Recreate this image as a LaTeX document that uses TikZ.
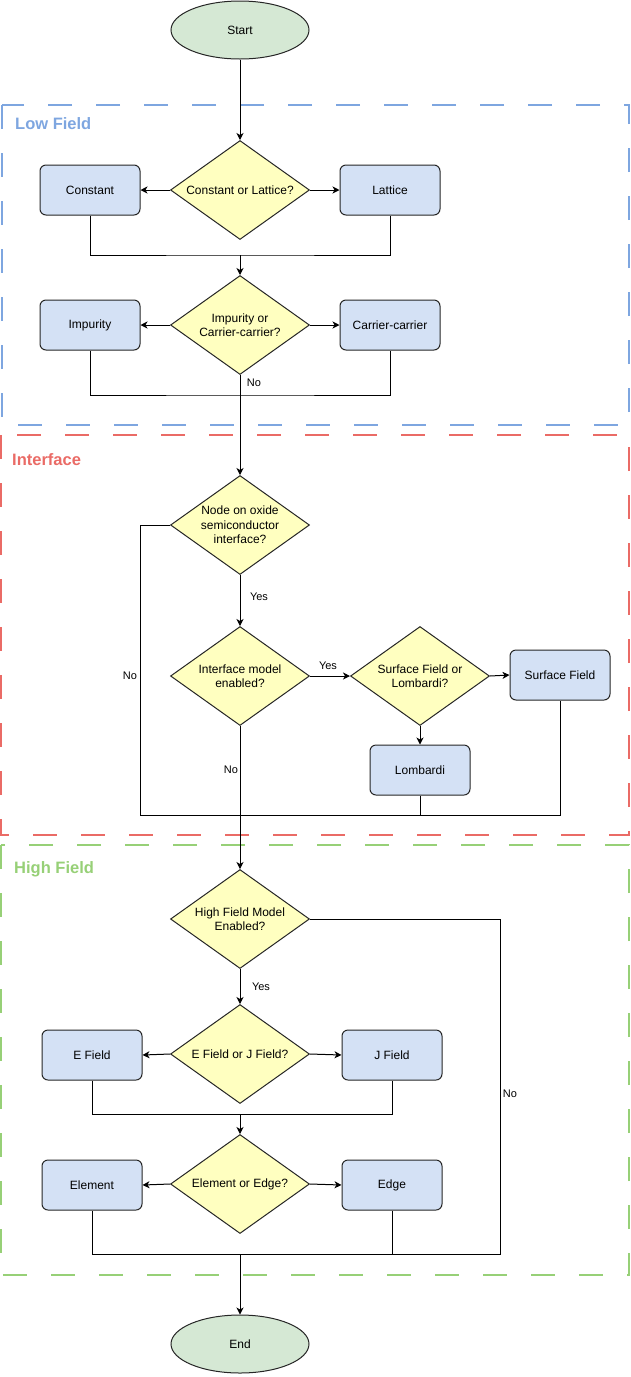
\documentclass[tikz,border=0pt]{standalone}
\usepackage{fontspec}
\setmainfont{Liberation Sans}
\usetikzlibrary{shapes.geometric,arrows.meta}
\definecolor{boxfill}{HTML}{D4E1F5}
\definecolor{diafill}{HTML}{FFFFC0}
\definecolor{ovalfill}{HTML}{D5E8D4}
\definecolor{lowc}{HTML}{7EA6E0}
\definecolor{intc}{HTML}{EA6B66}
\definecolor{highc}{HTML}{97D077}
\begin{document}
\begin{tikzpicture}[x=1pt,y=-1pt,
  base/.style={draw=black!85, line width=1pt, font=\fontsize{12}{14.5}\selectfont, align=center, inner sep=0pt},
  oval/.style={base, ellipse, fill=ovalfill, minimum width=138pt, minimum height=58pt},
  proc/.style={base, rectangle, rounded corners=6pt, fill=boxfill, minimum width=100pt, minimum height=50pt},
  dia/.style={base, diamond, fill=diafill, minimum width=139pt, minimum height=99pt},
  dtext/.style={font=\fontsize{12}{14.5}\selectfont, align=center, inner sep=0pt},
  arr/.style={-{Stealth[length=7pt,width=7pt,inset=2pt]}, line width=1pt},
  ln/.style={line width=1pt},
  elab/.style={font=\fontsize{11}{13}\selectfont, inner sep=0pt},
  group/.style={line width=2pt, dash pattern=on 24pt off 24pt},
  glab/.style={font=\fontsize{16.5}{18}\selectfont\bfseries, anchor=west, inner sep=0pt}
]
\useasboundingbox (0,0) rectangle (631,1377);

% groups
\draw[group, lowc] (2,105) rectangle (629,425);
\draw[group, intc] (1,435) rectangle (629,835);
\draw[group, highc] (1,845) rectangle (629,1275);
\node[glab, text=lowc] (glow) at (15,124) {Low Field};
\node[glab, text=intc] (gint) at (12,460) {Interface};
\node[glab, text=highc] (ghigh) at (14,869) {High Field};

% nodes
\node[oval] (start) at (240,30) {Start};
\node[dia] (d1) at (240,190) {};
\node[dtext] (d1t) at (d1) {Constant or Lattice?};
\node[proc] (const) at (90,190) {Constant};
\node[proc] (latt) at (390,190) {Lattice};
\node[dia] (d2) at (240,325) {};
\node[dtext] (d2t) at (d2) {Impurity or\\Carrier-carrier?};
\node[proc] (imp) at (90,325) {Impurity};
\node[proc] (cc) at (390,325) {Carrier-carrier};

\node[dia] (d3) at (240,525) {};
\node[dtext] (d3t) at (d3) {Node on oxide\\semiconductor\\interface?};
\node[dia] (d4) at (240,676) {};
\node[dtext] (d4t) at (d4) {Interface model\\enabled?};
\node[dia] (d5) at (420,676) {};
\node[dtext] (d5t) at (d5) {Surface Field or\\Lombardi?};
\node[proc] (sf) at (560,675) {Surface Field};
\node[proc] (lomb) at (420,770) {Lombardi};

\node[dia] (d6) at (240,919) {};
\node[dtext] (d6t) at (d6) {High Field Model\\Enabled?};
\node[dia] (d7) at (240,1054) {};
\node[dtext] (d7t) at (d7) {E Field or J Field?};
\node[proc] (ef) at (92,1055) {E Field};
\node[proc] (jf) at (392,1055) {J Field};
\node[dia] (d8) at (240,1184) {};
\node[dtext] (d8t) at (d8) {Element or Edge?};
\node[proc] (elem) at (92,1185) {Element};
\node[proc] (edge) at (392,1185) {Edge};
\node[oval] (end) at (240,1344) {End};

% junction coordinates
\coordinate (j1) at (240,255);
\coordinate (j2) at (240,395);
\coordinate (l1) at (140,815);
\coordinate (r2) at (500,1254);
\coordinate (j4) at (240,1254);
\coordinate (j5) at (240,1114);

% low field
\draw[arr] (start) -- (d1);
\draw[arr] (d1.west) -- (const.east);
\draw[arr] (d1.east) -- (latt.west);
\draw[ln] (const.south) |- (j1) -| (latt.south);
\draw[arr] (j1) -- (d2.north);
\draw[arr] (d2.west) -- (imp.east);
\draw[arr] (d2.east) -- (cc.west);
\draw[ln] (imp.south) |- (j2) -| (cc.south);
\draw[arr] (d2.south) -- (d3.north);
\node[elab] (no1) at (254,383) {No};

% interface
\draw[ln] (d3.west) -| (l1) -| (sf.south);
\draw[ln] (lomb.south) -- (lomb.south |- l1);
\node[elab] (no2) at (130,676) {No};
\draw[arr] (d3.south) -- (d4.north);
\node[elab] (yes1) at (259,597) {Yes};
\draw[arr] (d4.east) -- (d5.west);
\node[elab] (yes2) at (328,666) {Yes};
\draw[arr] (d5.east) -- (sf.west);
\draw[arr] (d5.south) -- (lomb.north);
\draw[arr] (d4.south) -- (d6.north);
\node[elab] (no3) at (231,770) {No};

% high field
\draw[ln] (d6.east) -| (r2) -| (elem.south);
\draw[ln] (edge.south) -- (edge.south |- r2);
\node[elab] (no4) at (510,1094) {No};
\draw[arr] (d6.south) -- (d7.north);
\node[elab] (yes3) at (261,987) {Yes};
\draw[arr] (d7.west) -- (ef.east);
\draw[arr] (d7.east) -- (jf.west);
\draw[ln] (ef.south) |- (j5) -| (jf.south);
\draw[arr] (j5) -- (d8.north);
\draw[arr] (d8.west) -- (elem.east);
\draw[arr] (d8.east) -- (edge.west);
\draw[arr] (j4) -- (end);
\end{tikzpicture}
\end{document}
